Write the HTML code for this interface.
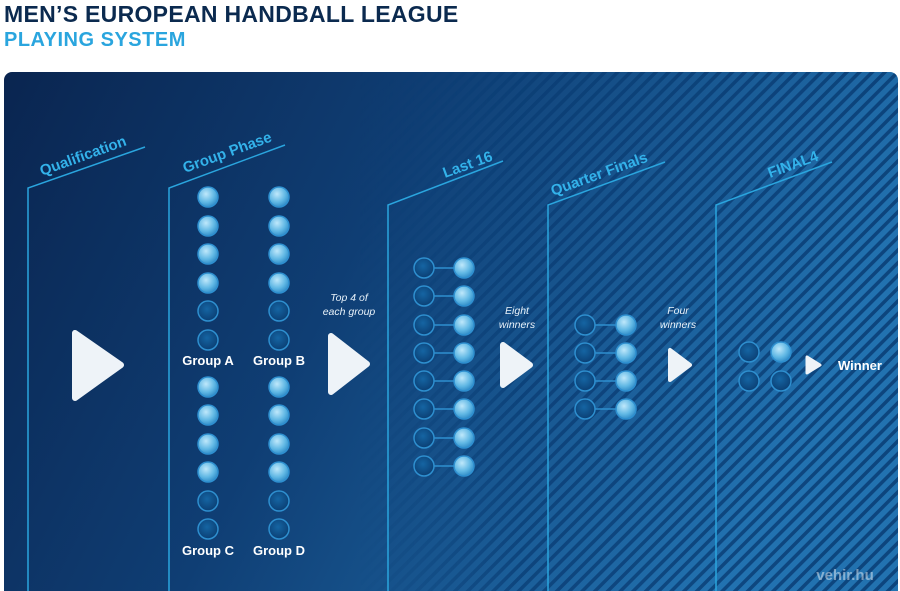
<!DOCTYPE html>
<html><head><meta charset="utf-8"><style>
html,body{margin:0;padding:0;background:#fff;width:900px;height:591px;overflow:hidden}
svg{display:block}
</style></head><body>
<svg width="900" height="591" viewBox="0 0 900 591" xmlns="http://www.w3.org/2000/svg" font-family="Liberation Sans, sans-serif">
<defs>
<linearGradient id="bg" x1="0" y1="0" x2="1" y2="0.3">
<stop offset="0" stop-color="#0a2550"/><stop offset="0.45" stop-color="#0f3e74"/><stop offset="1" stop-color="#2272b0"/>
</linearGradient>
<pattern id="st" width="9" height="9" patternUnits="userSpaceOnUse" patternTransform="rotate(45)">
<rect width="9" height="9" fill="none"/><rect width="3.5" height="9" fill="#0a3d74"/>
</pattern>
<linearGradient id="mg" x1="0" y1="0" x2="1" y2="0">
<stop offset="0.4" stop-color="#fff" stop-opacity="0"/><stop offset="0.58" stop-color="#fff" stop-opacity="0.75"/><stop offset="1" stop-color="#fff" stop-opacity="0.85"/>
</linearGradient>
<mask id="m"><rect x="0" y="0" width="900" height="591" fill="url(#mg)"/></mask>
<radialGradient id="lt" cx="0.4" cy="0.35" r="0.7"><stop offset="0" stop-color="#bfe8fb"/><stop offset="0.6" stop-color="#5fb7e4"/><stop offset="1" stop-color="#2a86c4"/></radialGradient>
<radialGradient id="dk" cx="0.45" cy="0.4" r="0.6"><stop offset="0" stop-color="#1565a3"/><stop offset="1" stop-color="#0b3f74"/></radialGradient>
<clipPath id="pc"><rect x="4" y="72" width="894" height="530" rx="8"/></clipPath>
</defs>
<text x="4" y="22" font-size="23" font-weight="bold" fill="#0b2a4f" letter-spacing="0.3">MEN’S EUROPEAN HANDBALL LEAGUE</text>
<text x="4" y="46" font-size="20" font-weight="bold" fill="#2aa5de" letter-spacing="0.5">PLAYING SYSTEM</text>
<g clip-path="url(#pc)">
<rect x="4" y="72" width="894" height="530" fill="url(#bg)"/>
<rect x="4" y="72" width="894" height="530" fill="url(#st)" mask="url(#m)"/>
</g>
<g stroke="#2aa5de" stroke-width="1.5" fill="none">
<path d="M28 591 V188 L145 147"/>
<path d="M169 591 V188 L285 145"/>
<path d="M388 591 V205 L503 161"/>
<path d="M548 591 V205 L665 162"/>
<path d="M716 591 V205 L832 162"/>
</g>
<g fill="#33b2ea" font-weight="bold" font-size="15">
<text transform="translate(42,176) rotate(-20)">Qualification</text>
<text transform="translate(185,173) rotate(-20)">Group Phase</text>
<text transform="translate(445,178) rotate(-20)">Last 16</text>
<text transform="translate(553,196) rotate(-20)">Quarter Finals</text>
<text transform="translate(770,178) rotate(-20)">FINAL4</text>
</g>
<g stroke="#2e8fcf" stroke-width="1.5">
<circle cx="208" cy="197" r="10" fill="url(#lt)"/><circle cx="208" cy="226" r="10" fill="url(#lt)"/><circle cx="208" cy="254" r="10" fill="url(#lt)"/><circle cx="208" cy="283" r="10" fill="url(#lt)"/><circle cx="208" cy="311" r="10" fill="url(#dk)"/><circle cx="208" cy="340" r="10" fill="url(#dk)"/>
<circle cx="279" cy="197" r="10" fill="url(#lt)"/><circle cx="279" cy="226" r="10" fill="url(#lt)"/><circle cx="279" cy="254" r="10" fill="url(#lt)"/><circle cx="279" cy="283" r="10" fill="url(#lt)"/><circle cx="279" cy="311" r="10" fill="url(#dk)"/><circle cx="279" cy="340" r="10" fill="url(#dk)"/>
<circle cx="208" cy="387" r="10" fill="url(#lt)"/><circle cx="208" cy="415" r="10" fill="url(#lt)"/><circle cx="208" cy="444" r="10" fill="url(#lt)"/><circle cx="208" cy="472" r="10" fill="url(#lt)"/><circle cx="208" cy="501" r="10" fill="url(#dk)"/><circle cx="208" cy="529" r="10" fill="url(#dk)"/>
<circle cx="279" cy="387" r="10" fill="url(#lt)"/><circle cx="279" cy="415" r="10" fill="url(#lt)"/><circle cx="279" cy="444" r="10" fill="url(#lt)"/><circle cx="279" cy="472" r="10" fill="url(#lt)"/><circle cx="279" cy="501" r="10" fill="url(#dk)"/><circle cx="279" cy="529" r="10" fill="url(#dk)"/>
</g>
<g stroke="#2e8fcf" stroke-width="1.5">
<line x1="434" y1="268" x2="454" y2="268"/><line x1="434" y1="296" x2="454" y2="296"/><line x1="434" y1="325" x2="454" y2="325"/><line x1="434" y1="353" x2="454" y2="353"/><line x1="434" y1="381" x2="454" y2="381"/><line x1="434" y1="409" x2="454" y2="409"/><line x1="434" y1="438" x2="454" y2="438"/><line x1="434" y1="466" x2="454" y2="466"/>
<line x1="595" y1="325" x2="616" y2="325"/><line x1="595" y1="353" x2="616" y2="353"/><line x1="595" y1="381" x2="616" y2="381"/><line x1="595" y1="409" x2="616" y2="409"/>
<circle cx="424" cy="268" r="10" fill="url(#dk)"/><circle cx="424" cy="296" r="10" fill="url(#dk)"/><circle cx="424" cy="325" r="10" fill="url(#dk)"/><circle cx="424" cy="353" r="10" fill="url(#dk)"/><circle cx="424" cy="381" r="10" fill="url(#dk)"/><circle cx="424" cy="409" r="10" fill="url(#dk)"/><circle cx="424" cy="438" r="10" fill="url(#dk)"/><circle cx="424" cy="466" r="10" fill="url(#dk)"/>
<circle cx="464" cy="268" r="10" fill="url(#lt)"/><circle cx="464" cy="296" r="10" fill="url(#lt)"/><circle cx="464" cy="325" r="10" fill="url(#lt)"/><circle cx="464" cy="353" r="10" fill="url(#lt)"/><circle cx="464" cy="381" r="10" fill="url(#lt)"/><circle cx="464" cy="409" r="10" fill="url(#lt)"/><circle cx="464" cy="438" r="10" fill="url(#lt)"/><circle cx="464" cy="466" r="10" fill="url(#lt)"/>
<circle cx="585" cy="325" r="10" fill="url(#dk)"/><circle cx="585" cy="353" r="10" fill="url(#dk)"/><circle cx="585" cy="381" r="10" fill="url(#dk)"/><circle cx="585" cy="409" r="10" fill="url(#dk)"/>
<circle cx="626" cy="325" r="10" fill="url(#lt)"/><circle cx="626" cy="353" r="10" fill="url(#lt)"/><circle cx="626" cy="381" r="10" fill="url(#lt)"/><circle cx="626" cy="409" r="10" fill="url(#lt)"/>
<circle cx="749" cy="352" r="10" fill="url(#dk)"/><circle cx="749" cy="381" r="10" fill="url(#dk)"/><circle cx="781" cy="352" r="10" fill="url(#lt)"/><circle cx="781" cy="381" r="10" fill="url(#dk)"/>
</g>
<g fill="#fff" font-weight="bold" font-size="13" text-anchor="middle">
<text x="208" y="365">Group A</text><text x="279" y="365">Group B</text>
<text x="208" y="555">Group C</text><text x="279" y="555">Group D</text>
<text x="860" y="370" text-anchor="middle">Winner</text>
</g>
<g fill="#e8f2fa" font-style="italic" font-size="10.5" text-anchor="middle">
<text x="349" y="301">Top 4 of</text><text x="349" y="315">each group</text>
<text x="517" y="314">Eight</text><text x="517" y="328">winners</text>
<text x="678" y="314">Four</text><text x="678" y="328">winners</text>
</g>
<g fill="#eef3f8" stroke="#eef3f8" stroke-width="6" stroke-linejoin="round">
<path d="M75 333 L75 398 L121 365 Z"/>
<path d="M331 336 L331 392 L367 364 Z"/>
<path d="M503 345 L503 385 L530 365 Z"/>
<path d="M670 350 L670 380 L690 365 Z" stroke-width="4"/>
<path d="M807 357 L807 373 L820 365 Z" stroke-width="3"/>
</g>
<text x="845" y="580" font-size="15" font-weight="bold" fill="#ffffff" opacity="0.45" text-anchor="middle">vehir.hu</text>
</svg>
</body></html>
